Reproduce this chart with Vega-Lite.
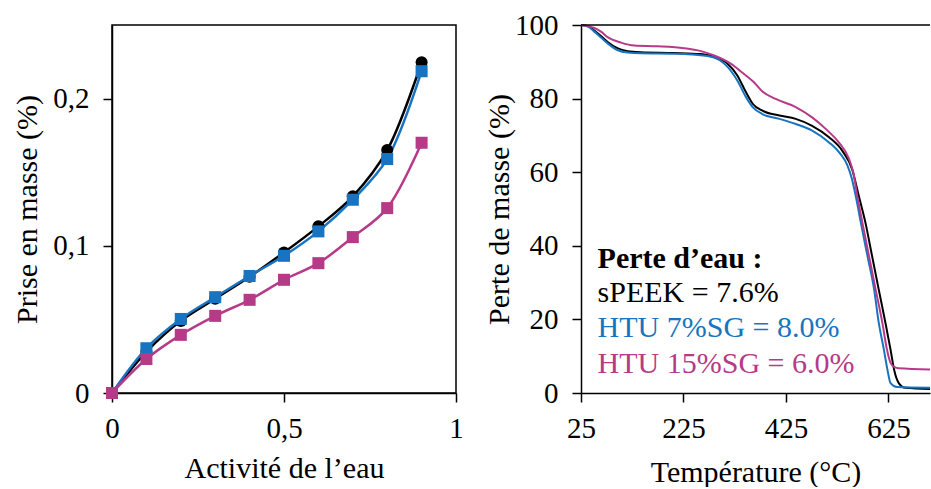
{
  "$schema": "https://vega.github.io/schema/vega-lite/v6.json",
  "padding": {"left": 12, "top": 11, "right": 0, "bottom": 0},
  "background": "white",
  "config": {
    "font": "Liberation Serif",
    "view": {"stroke": null},
    "axis": {
      "grid": false,
      "domainColor": "black",
      "domainWidth": 1.5,
      "tickColor": "black",
      "tickWidth": 1.5,
      "tickSize": 9,
      "labelFont": "Liberation Serif",
      "labelFontSize": 29,
      "labelColor": "black",
      "titleFont": "Liberation Serif",
      "titleFontSize": 30,
      "titleFontWeight": "normal",
      "titleColor": "black",
      "labelFlush": false,
      "labelOverlap": false
    },
    "axisX": {"labelPadding": 12, "titlePadding": 10},
    "axisY": {"labelPadding": 14}
  },
  "datasets": {
    "sorption": [
      {"series": "sPEEK", "aw": 0, "gain": 0},
      {"series": "sPEEK", "aw": 0.1, "gain": 0.028},
      {"series": "sPEEK", "aw": 0.2, "gain": 0.049},
      {"series": "sPEEK", "aw": 0.3, "gain": 0.064},
      {"series": "sPEEK", "aw": 0.4, "gain": 0.079},
      {"series": "sPEEK", "aw": 0.5, "gain": 0.0955},
      {"series": "sPEEK", "aw": 0.6, "gain": 0.1132},
      {"series": "sPEEK", "aw": 0.7, "gain": 0.1336},
      {"series": "sPEEK", "aw": 0.8, "gain": 0.165},
      {"series": "sPEEK", "aw": 0.9, "gain": 0.2247},
      {"series": "HTU 7%SG", "aw": 0, "gain": 0},
      {"series": "HTU 7%SG", "aw": 0.1, "gain": 0.0304},
      {"series": "HTU 7%SG", "aw": 0.2, "gain": 0.0503},
      {"series": "HTU 7%SG", "aw": 0.3, "gain": 0.0651},
      {"series": "HTU 7%SG", "aw": 0.4, "gain": 0.0795},
      {"series": "HTU 7%SG", "aw": 0.5, "gain": 0.0932},
      {"series": "HTU 7%SG", "aw": 0.6, "gain": 0.1098},
      {"series": "HTU 7%SG", "aw": 0.7, "gain": 0.1313},
      {"series": "HTU 7%SG", "aw": 0.8, "gain": 0.159},
      {"series": "HTU 7%SG", "aw": 0.9, "gain": 0.2186},
      {"series": "HTU 15%SG", "aw": 0, "gain": 0},
      {"series": "HTU 15%SG", "aw": 0.1, "gain": 0.0231},
      {"series": "HTU 15%SG", "aw": 0.2, "gain": 0.0395},
      {"series": "HTU 15%SG", "aw": 0.3, "gain": 0.0524},
      {"series": "HTU 15%SG", "aw": 0.4, "gain": 0.0633},
      {"series": "HTU 15%SG", "aw": 0.5, "gain": 0.0769},
      {"series": "HTU 15%SG", "aw": 0.6, "gain": 0.0882},
      {"series": "HTU 15%SG", "aw": 0.7, "gain": 0.1059},
      {"series": "HTU 15%SG", "aw": 0.8, "gain": 0.1256},
      {"series": "HTU 15%SG", "aw": 0.9, "gain": 0.170}
    ],
    "tga": [
      {"series": "sPEEK", "T": 25, "v": 100},
      {"series": "sPEEK", "T": 40, "v": 99.6},
      {"series": "sPEEK", "T": 51, "v": 98.5},
      {"series": "sPEEK", "T": 64, "v": 97},
      {"series": "sPEEK", "T": 77, "v": 95.4},
      {"series": "sPEEK", "T": 96, "v": 93.7},
      {"series": "sPEEK", "T": 116, "v": 92.9},
      {"series": "sPEEK", "T": 142, "v": 92.6},
      {"series": "sPEEK", "T": 207, "v": 92.4},
      {"series": "sPEEK", "T": 259, "v": 92.1},
      {"series": "sPEEK", "T": 285, "v": 91.3},
      {"series": "sPEEK", "T": 311, "v": 89.5},
      {"series": "sPEEK", "T": 330, "v": 86.3},
      {"series": "sPEEK", "T": 347, "v": 81.7},
      {"series": "sPEEK", "T": 360, "v": 78.6},
      {"series": "sPEEK", "T": 379, "v": 76.7},
      {"series": "sPEEK", "T": 412, "v": 75.4},
      {"series": "sPEEK", "T": 444, "v": 74.5},
      {"series": "sPEEK", "T": 476, "v": 72.6},
      {"series": "sPEEK", "T": 509, "v": 69.5},
      {"series": "sPEEK", "T": 535, "v": 65.8},
      {"series": "sPEEK", "T": 554, "v": 60.8},
      {"series": "sPEEK", "T": 567, "v": 53.6},
      {"series": "sPEEK", "T": 580, "v": 46.3},
      {"series": "sPEEK", "T": 593, "v": 37.2},
      {"series": "sPEEK", "T": 606, "v": 28.1},
      {"series": "sPEEK", "T": 619, "v": 19.1},
      {"series": "sPEEK", "T": 629, "v": 11.8},
      {"series": "sPEEK", "T": 636, "v": 6.3},
      {"series": "sPEEK", "T": 645, "v": 2.7},
      {"series": "sPEEK", "T": 658, "v": 1.4},
      {"series": "sPEEK", "T": 706, "v": 1.1},
      {"series": "HTU 7%SG", "T": 25, "v": 100},
      {"series": "HTU 7%SG", "T": 40, "v": 99.5},
      {"series": "HTU 7%SG", "T": 51, "v": 98.2},
      {"series": "HTU 7%SG", "T": 64, "v": 96.6},
      {"series": "HTU 7%SG", "T": 77, "v": 95.0},
      {"series": "HTU 7%SG", "T": 96, "v": 93.2},
      {"series": "HTU 7%SG", "T": 116, "v": 92.5},
      {"series": "HTU 7%SG", "T": 142, "v": 92.3},
      {"series": "HTU 7%SG", "T": 207, "v": 92.2},
      {"series": "HTU 7%SG", "T": 272, "v": 91.6},
      {"series": "HTU 7%SG", "T": 295, "v": 90.5},
      {"series": "HTU 7%SG", "T": 311, "v": 88.6},
      {"series": "HTU 7%SG", "T": 330, "v": 84.9},
      {"series": "HTU 7%SG", "T": 347, "v": 80.4},
      {"series": "HTU 7%SG", "T": 360, "v": 77.7},
      {"series": "HTU 7%SG", "T": 379, "v": 75.8},
      {"series": "HTU 7%SG", "T": 412, "v": 74.5},
      {"series": "HTU 7%SG", "T": 444, "v": 73.1},
      {"series": "HTU 7%SG", "T": 476, "v": 71.3},
      {"series": "HTU 7%SG", "T": 509, "v": 68.1},
      {"series": "HTU 7%SG", "T": 530, "v": 65.2},
      {"series": "HTU 7%SG", "T": 545, "v": 61.8},
      {"series": "HTU 7%SG", "T": 553, "v": 58.5},
      {"series": "HTU 7%SG", "T": 561, "v": 53.6},
      {"series": "HTU 7%SG", "T": 571, "v": 46.3},
      {"series": "HTU 7%SG", "T": 584, "v": 37.2},
      {"series": "HTU 7%SG", "T": 597, "v": 28.1},
      {"series": "HTU 7%SG", "T": 606, "v": 19.1},
      {"series": "HTU 7%SG", "T": 616, "v": 11.8},
      {"series": "HTU 7%SG", "T": 623, "v": 6.3},
      {"series": "HTU 7%SG", "T": 629, "v": 2.7},
      {"series": "HTU 7%SG", "T": 642, "v": 1.6},
      {"series": "HTU 7%SG", "T": 706, "v": 1.4},
      {"series": "HTU 15%SG", "T": 25, "v": 100},
      {"series": "HTU 15%SG", "T": 40, "v": 99.7},
      {"series": "HTU 15%SG", "T": 51, "v": 99.2},
      {"series": "HTU 15%SG", "T": 64, "v": 98.2},
      {"series": "HTU 15%SG", "T": 77, "v": 96.7},
      {"series": "HTU 15%SG", "T": 103, "v": 95.2},
      {"series": "HTU 15%SG", "T": 129, "v": 94.4},
      {"series": "HTU 15%SG", "T": 174, "v": 94.2},
      {"series": "HTU 15%SG", "T": 226, "v": 93.7},
      {"series": "HTU 15%SG", "T": 259, "v": 92.9},
      {"series": "HTU 15%SG", "T": 285, "v": 91.7},
      {"series": "HTU 15%SG", "T": 317, "v": 89.5},
      {"series": "HTU 15%SG", "T": 343, "v": 86.7},
      {"series": "HTU 15%SG", "T": 362, "v": 84.5},
      {"series": "HTU 15%SG", "T": 379, "v": 81.9},
      {"series": "HTU 15%SG", "T": 405, "v": 79.9},
      {"series": "HTU 15%SG", "T": 444, "v": 77.7},
      {"series": "HTU 15%SG", "T": 476, "v": 74.9},
      {"series": "HTU 15%SG", "T": 503, "v": 71.7},
      {"series": "HTU 15%SG", "T": 528, "v": 68.1},
      {"series": "HTU 15%SG", "T": 548, "v": 63.6},
      {"series": "HTU 15%SG", "T": 557, "v": 59.5},
      {"series": "HTU 15%SG", "T": 564, "v": 53.6},
      {"series": "HTU 15%SG", "T": 574, "v": 46.3},
      {"series": "HTU 15%SG", "T": 587, "v": 37.2},
      {"series": "HTU 15%SG", "T": 600, "v": 28.1},
      {"series": "HTU 15%SG", "T": 613, "v": 19.1},
      {"series": "HTU 15%SG", "T": 622, "v": 11.8},
      {"series": "HTU 15%SG", "T": 629, "v": 8.2},
      {"series": "HTU 15%SG", "T": 637, "v": 7.0},
      {"series": "HTU 15%SG", "T": 645, "v": 6.7},
      {"series": "HTU 15%SG", "T": 706, "v": 6.4}
    ],
    "notes": [
      {"series": "heading", "T": 57.4, "v": 34.1, "txt": "Perte d’eau :"},
      {"series": "sPEEK", "T": 57.4, "v": 24.6, "txt": "sPEEK = 7.6%"},
      {"series": "HTU 7%SG", "T": 57.4, "v": 15.1, "txt": "HTU 7%SG = 8.0%"},
      {"series": "HTU 15%SG", "T": 57.4, "v": 5.5, "txt": "HTU 15%SG = 6.0%"}
    ]
  },
  "spacing": 20,
  "hconcat": [
    {
      "width": 344,
      "height": 368,
      "view": {"stroke": "black", "strokeWidth": 1.5},
      "data": {"name": "sorption"},
      "encoding": {
        "x": {
          "field": "aw", "type": "quantitative",
          "scale": {"domain": [0, 1], "nice": false, "zero": false},
          "axis": {"values": [0, 0.5, 1], "labelExpr": "replace(format(datum.value, '~g'), '.', ',')", "title": "Activité de l’eau"}
        },
        "y": {
          "field": "gain", "type": "quantitative",
          "scale": {"domain": [0, 0.25], "nice": false},
          "axis": {"values": [0, 0.1, 0.2], "labelExpr": "replace(format(datum.value, '~g'), '.', ',')", "title": "Prise en masse (%)", "titlePadding": 10}
        },
        "color": {
          "field": "series", "type": "nominal",
          "scale": {"domain": ["sPEEK", "HTU 7%SG", "HTU 15%SG"], "range": ["#000000", "#1874C0", "#B73A88"]},
          "legend": null
        }
      },
      "layer": [
        {"mark": {"type": "line", "interpolate": "catmull-rom", "strokeWidth": 2.5}},
        {
          "mark": {"type": "point", "filled": true, "size": 145, "opacity": 1},
          "encoding": {
            "shape": {
              "field": "series", "type": "nominal",
              "scale": {"domain": ["sPEEK", "HTU 7%SG", "HTU 15%SG"], "range": ["circle", "square", "square"]},
              "legend": null
            }
          }
        }
      ]
    },
    {
      "width": 349,
      "height": 368,
      "layer": [
        {
          "data": {"name": "tga"},
          "mark": {"type": "line", "interpolate": "monotone", "strokeWidth": 2},
          "encoding": {
            "x": {
              "field": "T", "type": "quantitative",
              "scale": {"domain": [25, 706], "nice": false, "zero": false},
              "axis": {"values": [25, 225, 425, 625], "title": "Température (°C)", "titlePadding": 14}
            },
            "y": {
              "field": "v", "type": "quantitative",
              "scale": {"domain": [0, 100], "nice": false},
              "axis": {"values": [0, 20, 40, 60, 80, 100], "title": "Perte de masse (%)", "titlePadding": 0}
            },
            "color": {
              "field": "series", "type": "nominal",
              "scale": {"domain": ["sPEEK", "HTU 7%SG", "HTU 15%SG"], "range": ["#000000", "#1874C0", "#B73A88"]},
              "legend": null
            }
          }
        },
        {
          "data": {"values": [{}]},
          "mark": {"type": "rule", "color": "black", "strokeWidth": 1.5},
          "encoding": {"y": {"datum": 100}}
        },
        {
          "data": {"name": "notes"},
          "transform": [{"filter": "datum.series === 'heading'"}],
          "mark": {"type": "text", "align": "left", "baseline": "alphabetic", "fontSize": 30, "fontWeight": "bold", "color": "black", "font": "Liberation Serif"},
          "encoding": {
            "x": {"field": "T", "type": "quantitative"},
            "y": {"field": "v", "type": "quantitative"},
            "text": {"field": "txt"}
          }
        },
        {
          "data": {"name": "notes"},
          "transform": [{"filter": "datum.series !== 'heading'"}],
          "mark": {"type": "text", "align": "left", "baseline": "alphabetic", "fontSize": 30, "font": "Liberation Serif"},
          "encoding": {
            "x": {"field": "T", "type": "quantitative"},
            "y": {"field": "v", "type": "quantitative"},
            "text": {"field": "txt"},
            "color": {"field": "series", "type": "nominal", "legend": null}
          }
        }
      ]
    }
  ]
}
